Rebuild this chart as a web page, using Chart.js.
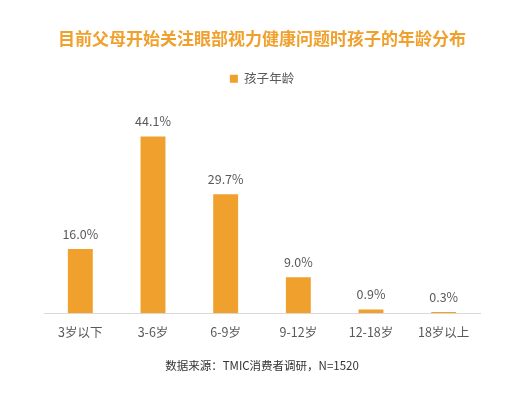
<!DOCTYPE html>
<html>
<head>
<meta charset="utf-8">
<script src="https://cdn.jsdelivr.net/npm/chart.js@4"></script>
<style>
  html, body { margin: 0; padding: 0; background: #fff; }
  #wrap { width: 514px; height: 396px; }
</style>
</head>
<body>
<div id="wrap"><canvas id="ageChart"></canvas></div>
<script>
// Chart data
const categories = ['3岁以下', '3-6岁', '6-9岁', '9-12岁', '12-18岁', '18岁以上'];
const ageShare = [16.0, 44.1, 29.7, 9.0, 0.9, 0.3];
const seriesName = '孩子年龄';
const titleText = '目前父母开始关注眼部视力健康问题时孩子的年龄分布';
const sourceText = '数据来源：TMIC消费者调研，N=1520';

const FONT = '"Noto Sans CJK SC", "Noto Sans", sans-serif';
const ORANGE = '#F0A02C';

// Value labels above bars
const valueLabels = {
    id: 'valueLabels',
    afterDatasetsDraw(chart) {
        const ctx = chart.ctx;
        const meta = chart.getDatasetMeta(0);
        ctx.save();
        ctx.font = '12.5px ' + FONT;
        ctx.fillStyle = '#595959';
        ctx.textAlign = 'center';
        ctx.textBaseline = 'middle';
        meta.data.forEach((bar, i) => {
            ctx.fillText(ageShare[i].toFixed(1) + '%', bar.x, bar.y - 15);
        });
        ctx.restore();
    }
};

document.addEventListener('DOMContentLoaded', () => {
    const ctx = document.getElementById('ageChart').getContext('2d');
    new Chart(ctx, {
        type: 'bar',
        data: {
            labels: categories,
            datasets: [{
                label: seriesName,
                data: ageShare,
                backgroundColor: ORANGE,
                barPercentage: 0.7,
                categoryPercentage: 0.49
            }]
        },
        options: {
            responsive: true,
            maintainAspectRatio: false,
            animation: false,
            layout: { padding: { left: 44, right: 34, top: 0, bottom: 0 } },
            scales: {
                x: {
                    grid: { display: false, drawTicks: false },
                    border: { color: '#d9d9d9', width: 1 },
                    ticks: { color: '#595959', font: { family: FONT, size: 12.5 }, padding: 12 }
                },
                y: { display: false, min: 0, max: 54.5 }
            },
            plugins: {
                title: {
                    display: true,
                    text: titleText,
                    color: ORANGE,
                    font: { family: FONT, size: 17, weight: 'bold' },
                    padding: { top: 28, bottom: 14 }
                },
                subtitle: {
                    display: true,
                    position: 'bottom',
                    text: sourceText,
                    color: '#333333',
                    font: { family: FONT, size: 11.5 },
                    padding: { top: 7, bottom: 23 }
                },
                legend: {
                    display: true,
                    labels: {
                        color: '#595959',
                        font: { family: FONT, size: 12.5 },
                        boxWidth: 8,
                        boxHeight: 8,
                        padding: 10
                    }
                },
                tooltip: { enabled: false }
            }
        },
        plugins: [valueLabels]
    });
});
</script>
</body>
</html>
